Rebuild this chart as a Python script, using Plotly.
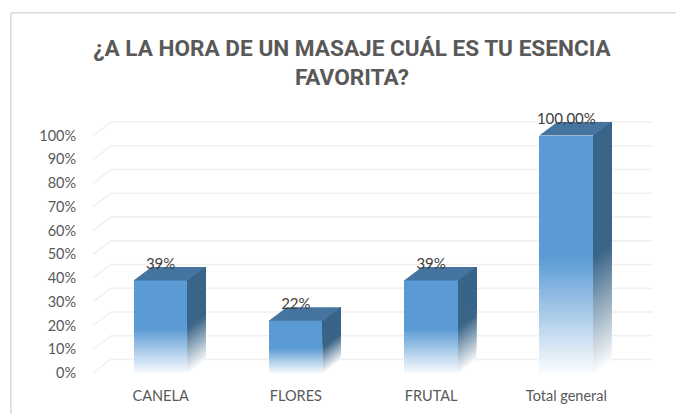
import plotly.graph_objects as go

# ==========================================================
# Data
# ==========================================================

categories = ["CANELA", "FLORES", "FRUTAL", "Total general"]
values = [39, 22, 39, 100]
value_labels = ["39%", "22%", "39%", "100,00%"]

tick_values = [0, 10, 20, 30, 40, 50, 60, 70, 80, 90, 100]
tick_labels = ["0%", "10%", "20%", "30%", "40%", "50%", "60%", "70%", "80%", "90%", "100%"]

title_text = "¿A LA HORA DE UN MASAJE CUÁL ES TU ESENCIA<br>FAVORITA?"

# ==========================================================
# Style
# ==========================================================

WIDTH = 676
HEIGHT = 414

PLOT_LEFT = 92.7
PLOT_RIGHT = 652
PLOT_TOP = 100.15
PLOT_BOTTOM = 372.7
Y_MAX = 115

BAR_WIDTH = 0.4
DEPTH_X = 0.133
DEPTH_Y = 5.7
LEVELS = 80

FRONT = (91, 155, 213)
SIDE = (58, 101, 136)
TOP = "#44749f"
GRID = "#f0f0f0"
TEXT = "#595959"


def fade(color, level):
    # solid on the upper half of the bar, fading to white below it
    amount = min(1.0, 0.04 + level / (LEVELS / 2))
    mix = [round(255 + (c - 255) * amount) for c in color]
    return f"rgb({mix[0]},{mix[1]},{mix[2]})"


def paper_x(px):
    return (px - PLOT_LEFT) / (PLOT_RIGHT - PLOT_LEFT)


def paper_y(px):
    return (PLOT_BOTTOM - px) / (PLOT_BOTTOM - PLOT_TOP)


positions = list(range(len(categories)))

fig = go.Figure()

# ==========================================================
# Front faces
# ==========================================================

for level in range(LEVELS):
    fig.add_trace(
        go.Bar(
            x=positions,
            y=[v / LEVELS for v in values],
            base=[v * level / LEVELS for v in values],
            width=BAR_WIDTH,
            marker=dict(color=fade(FRONT, level), line=dict(width=0)),
            hoverinfo="skip",
            showlegend=False,
        )
    )

# ==========================================================
# Side and top faces
# ==========================================================

for pos, value in zip(positions, values):

    right = pos + BAR_WIDTH / 2
    left = pos - BAR_WIDTH / 2

    for level in range(LEVELS):
        low = value * level / LEVELS
        fig.add_trace(
            go.Scatter(
                x=[right, right + DEPTH_X, right + DEPTH_X, right, right],
                y=[low, low + DEPTH_Y, value + DEPTH_Y, value, low],
                mode="lines",
                fill="toself",
                fillcolor=fade(SIDE, level),
                line=dict(width=0),
                hoverinfo="skip",
                showlegend=False,
            )
        )

    fig.add_trace(
        go.Scatter(
            x=[left, right, right + DEPTH_X, left + DEPTH_X, left],
            y=[value, value, value + DEPTH_Y, value + DEPTH_Y, value],
            mode="lines",
            fill="toself",
            fillcolor=TOP,
            line=dict(width=0),
            hoverinfo="skip",
            showlegend=False,
        )
    )

# ==========================================================
# Data labels
# ==========================================================

fig.add_trace(
    go.Scatter(
        x=positions,
        y=[v + 6.6 for v in values],
        mode="text",
        text=value_labels,
        textposition="middle center",
        textfont=dict(family="Lato", size=15, color="#404040"),
        cliponaxis=False,
        hoverinfo="skip",
        showlegend=False,
    )
)

# ==========================================================
# Gridlines on the floor edge and back wall, chart frame
# ==========================================================

x_start = -0.5
x_end = len(categories) - 0.5 + DEPTH_X

shapes = []

for tick in tick_values:
    path = (
        f"M {x_start} {tick} "
        f"L {x_start + DEPTH_X} {tick + DEPTH_Y} "
        f"L {x_end} {tick + DEPTH_Y}"
    )
    shapes.append(
        dict(
            type="path",
            path=path,
            xref="x",
            yref="y",
            layer="below",
            line=dict(color=GRID, width=1.5),
        )
    )

for x0, y0, x1, y1 in [(10.5, 13, 10.5, HEIGHT), (10.5, 13, WIDTH, 13)]:
    shapes.append(
        dict(
            type="line",
            xref="paper",
            yref="paper",
            x0=paper_x(x0),
            x1=paper_x(x1),
            y0=paper_y(y0),
            y1=paper_y(y1),
            line=dict(color="#d9d9d9", width=1.5),
        )
    )

# ==========================================================
# Layout
# ==========================================================

fig.update_layout(
    width=WIDTH,
    height=HEIGHT,
    autosize=False,
    barmode="overlay",
    bargap=0,
    paper_bgcolor="white",
    plot_bgcolor="white",
    margin=dict(
        l=PLOT_LEFT,
        r=WIDTH - PLOT_RIGHT,
        t=PLOT_TOP,
        b=HEIGHT - PLOT_BOTTOM,
    ),
    shapes=shapes,
    title=dict(
        text=title_text,
        x=352 / WIDTH,
        xanchor="center",
        y=1 - 55.5 / HEIGHT,
        yanchor="middle",
        font=dict(family="Roboto", size=22.6, color=TEXT, weight="bold"),
    ),
    xaxis=dict(
        range=[x_start, x_end],
        tickmode="array",
        tickvals=positions,
        ticktext=categories,
        showgrid=False,
        zeroline=False,
        showline=False,
        automargin=False,
        ticks="outside",
        ticklen=10,
        tickcolor="rgba(0,0,0,0)",
        tickfont=dict(family="Lato", size=14.5, color=TEXT),
    ),
    yaxis=dict(
        range=[0, Y_MAX],
        tickmode="array",
        tickvals=tick_values,
        ticktext=tick_labels,
        showgrid=False,
        zeroline=False,
        showline=False,
        automargin=False,
        ticks="outside",
        ticklen=13,
        tickcolor="rgba(0,0,0,0)",
        tickfont=dict(family="Lato", size=14.5, color=TEXT),
    ),
)

fig.write_html(
    "out.html",
    config=dict(displayModeBar=False),
    post_script="document.body.style.margin='0';document.body.style.overflow='hidden';",
)
